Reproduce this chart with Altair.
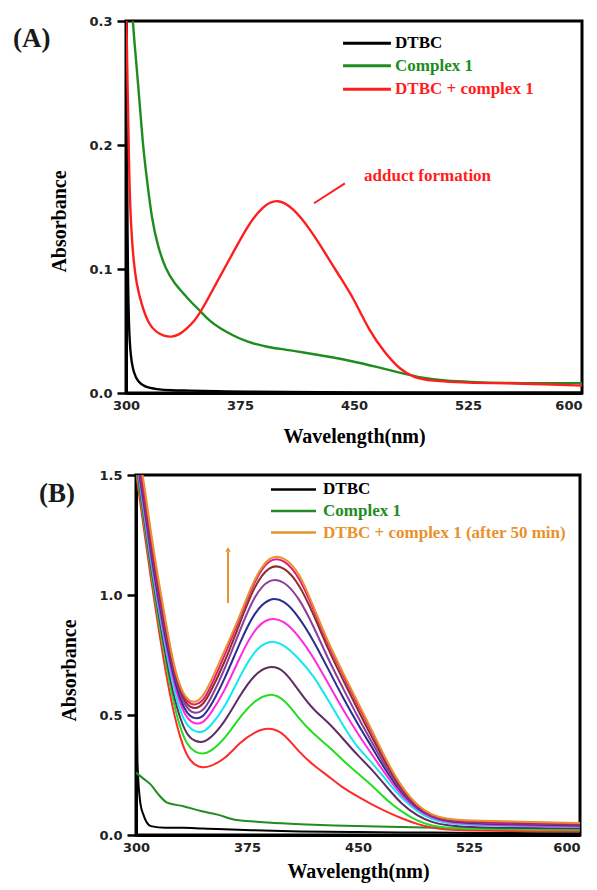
import altair as alt
import pandas as pd

# ---------------- Panel (A) data ----------------
A_DTBC_WL = [300, 301, 302, 303, 305, 308, 312, 320, 330, 340, 360, 380, 400, 450, 500, 600]
A_DTBC_ABS = [0.35, 0.10, 0.05, 0.03, 0.016, 0.009, 0.005, 0.003, 0.002, 0.002, 0.0015, 0.001, 0.0008, 0.0005, 0.0003, 0.0002]

A_CPLX_WL = [300, 302, 304, 305, 308, 311, 314, 317, 321, 326, 332, 338, 343, 349, 355, 362, 371, 380,
             393, 405, 415, 430, 448, 465, 481, 495, 510, 525, 550, 575, 600]
A_CPLX_ABS = [0.40, 0.34, 0.31, 0.29, 0.25, 0.20, 0.17, 0.14, 0.118, 0.10, 0.088, 0.08, 0.073, 0.066, 0.058,
              0.052, 0.046, 0.041, 0.037, 0.035, 0.033, 0.030, 0.026, 0.021, 0.016, 0.012, 0.010, 0.009,
              0.008, 0.008, 0.008]

A_MIX_WL = [300, 301, 302, 303, 305, 307, 310, 315, 320, 325, 330, 335, 340, 345, 350, 360, 370, 380, 390,
            400, 410, 420, 430, 440, 450, 460, 470, 480, 490, 500, 525, 550, 575, 600]
A_MIX_ABS = [0.32, 0.25, 0.18, 0.14, 0.105, 0.088, 0.072, 0.055, 0.049, 0.046, 0.045, 0.047, 0.052, 0.058,
             0.067, 0.09, 0.112, 0.135, 0.151, 0.157, 0.149, 0.134, 0.115, 0.095, 0.076, 0.05, 0.033, 0.019,
             0.012, 0.010, 0.008, 0.008, 0.007, 0.006]

A_SERIES = ["DTBC", "Complex 1", "DTBC + complex 1"]
A_COLORS = ["#000000", "#1E8C1E", "#FF1E1E"]
A_LEGEND_Y = [0.282, 0.264, 0.245]

# ---------------- Panel (B) data ----------------
B_WL = [300, 305, 310, 315, 320, 325, 330, 335, 340, 345, 350, 360, 370, 380, 390, 400, 410, 420, 430,
        440, 450, 460, 470, 480, 490, 500, 510, 525, 550, 600]
B_T1 = [1.51, 1.29, 1.07, 0.87, 0.68, 0.52, 0.40, 0.32, 0.29, 0.28, 0.285, 0.315, 0.385, 0.43, 0.45, 0.425,
        0.345, 0.29, 0.245, 0.195, 0.16, 0.125, 0.095, 0.068, 0.045, 0.03, 0.022, 0.018, 0.016, 0.015]
B_T2 = [1.54, 1.32, 1.10, 0.90, 0.72, 0.56, 0.44, 0.37, 0.345, 0.337, 0.345, 0.40, 0.49, 0.56, 0.593, 0.57,
        0.485, 0.42, 0.37, 0.31, 0.255, 0.205, 0.14, 0.095, 0.058, 0.038, 0.03, 0.026, 0.024, 0.022]
B_T3 = [1.56, 1.34, 1.12, 0.93, 0.75, 0.59, 0.48, 0.41, 0.39, 0.385, 0.40, 0.47, 0.58, 0.67, 0.708, 0.69,
        0.60, 0.52, 0.47, 0.40, 0.33, 0.27, 0.195, 0.125, 0.08, 0.052, 0.04, 0.033, 0.03, 0.028]
B_T4 = [1.58, 1.36, 1.14, 0.95, 0.78, 0.62, 0.51, 0.45, 0.43, 0.427, 0.45, 0.53, 0.66, 0.77, 0.813, 0.795,
        0.735, 0.665, 0.56, 0.455, 0.36, 0.30, 0.22, 0.15, 0.097, 0.063, 0.049, 0.041, 0.037, 0.034]
B_T5 = [1.59, 1.38, 1.16, 0.97, 0.80, 0.65, 0.54, 0.48, 0.462, 0.465, 0.50, 0.60, 0.74, 0.86, 0.908, 0.895,
        0.83, 0.74, 0.63, 0.52, 0.42, 0.33, 0.24, 0.16, 0.105, 0.07, 0.054, 0.045, 0.04, 0.036]
B_T6 = [1.60, 1.40, 1.18, 0.99, 0.82, 0.67, 0.56, 0.50, 0.483, 0.49, 0.53, 0.65, 0.80, 0.93, 0.99, 0.98,
        0.91, 0.81, 0.69, 0.57, 0.46, 0.36, 0.255, 0.17, 0.11, 0.075, 0.058, 0.05, 0.045, 0.04]
B_T7 = [1.61, 1.42, 1.20, 1.01, 0.84, 0.69, 0.58, 0.52, 0.505, 0.515, 0.56, 0.69, 0.85, 1.0, 1.07, 1.06,
        0.99, 0.87, 0.73, 0.61, 0.49, 0.38, 0.27, 0.175, 0.113, 0.077, 0.06, 0.053, 0.048, 0.043]
B_T8 = [1.62, 1.44, 1.22, 1.03, 0.86, 0.70, 0.595, 0.535, 0.525, 0.54, 0.59, 0.72, 0.88, 1.04, 1.125, 1.12,
        1.05, 0.92, 0.77, 0.645, 0.52, 0.40, 0.285, 0.183, 0.117, 0.079, 0.062, 0.056, 0.052, 0.046]
B_T9 = [1.63, 1.46, 1.24, 1.05, 0.88, 0.71, 0.605, 0.55, 0.54, 0.555, 0.61, 0.75, 0.90, 1.06, 1.155, 1.15,
        1.08, 0.94, 0.79, 0.665, 0.54, 0.42, 0.295, 0.19, 0.12, 0.08, 0.064, 0.058, 0.055, 0.048]
B_T10 = [1.65, 1.49, 1.26, 1.07, 0.89, 0.72, 0.61, 0.56, 0.55, 0.575, 0.63, 0.77, 0.91, 1.07, 1.165, 1.16,
         1.10, 0.95, 0.80, 0.675, 0.55, 0.43, 0.30, 0.195, 0.122, 0.082, 0.066, 0.06, 0.057, 0.05]
B_TIMES = [B_T1, B_T2, B_T3, B_T4, B_T5, B_T6, B_T7, B_T8, B_T9, B_T10]
B_TIME_NAMES = ["t1", "t2", "t3", "t4", "t5", "t6", "t7", "t8", "t9", "DTBC + complex 1 (after 50 min)"]
B_TIME_COLORS = ["#FF2A2A", "#22DD22", "#5E2D63", "#11E8F0", "#FF2AE0", "#2A2E8E", "#8E3C9E",
                 "#8B2E2E", "#E6197A", "#E8922E"]

B_DTBC_WL = [300, 301, 303, 305, 307, 310, 320, 332, 345, 355, 378, 411, 450, 500, 550, 600]
B_DTBC_ABS = [0.80, 0.30, 0.13, 0.085, 0.055, 0.037, 0.03, 0.03, 0.027, 0.025, 0.02, 0.015, 0.012, 0.01,
              0.008, 0.007]
B_CPLX_WL = [300, 305, 310, 315, 321, 332, 344, 355, 366, 378, 389, 411, 434, 479, 525, 600]
B_CPLX_ABS = [0.26, 0.235, 0.21, 0.17, 0.135, 0.12, 0.10, 0.085, 0.065, 0.057, 0.052, 0.045, 0.04, 0.033,
              0.027, 0.022]

B_LEGEND = ["DTBC", "Complex 1", "DTBC + complex 1 (after 50 min)"]
B_LEGEND_Y = [1.44, 1.35, 1.26]

X_TICKS = [300, 375, 450, 525, 600]
A_Y_TICKS = [0.0, 0.1, 0.2, 0.3]
B_Y_TICKS = [0.0, 0.5, 1.0, 1.5]

SERIF = "Liberation Serif"


def frame(wl, ab, name):
    return pd.DataFrame({"wl": wl, "ab": ab, "series": name})


def xs():
    return alt.Scale(domain=[300, 600], nice=False, zero=False)


def x_enc(title_pad):
    return alt.X("wl:Q", scale=xs(),
                 axis=alt.Axis(values=X_TICKS, title="Wavelength(nm)", labelFlush=False,
                               labelAlign={"condition": {"test": "datum.value >= 600", "value": "right"},
                                           "value": "center"},
                               titlePadding=title_pad))


def y_enc(top, ticks, title_y):
    return alt.Y("ab:Q", scale=alt.Scale(domain=[0, top], nice=False, zero=False),
                 axis=alt.Axis(values=ticks, format=".1f", title="Absorbance", titleY=title_y))


# ---------------- Panel (A) ----------------
dfA = pd.concat([frame(A_DTBC_WL, A_DTBC_ABS, A_SERIES[0]),
                 frame(A_CPLX_WL, A_CPLX_ABS, A_SERIES[1]),
                 frame(A_MIX_WL, A_MIX_ABS, A_SERIES[2])])
colA = alt.Color("series:N", scale=alt.Scale(domain=A_SERIES, range=A_COLORS), legend=None)
XA, YA = x_enc(14), y_enc(0.3, A_Y_TICKS, 200)

linesA = alt.Chart(dfA).mark_line(clip=True, strokeWidth=2.4, interpolate="basis").encode(
    x=XA, y=YA, color=colA, detail="series:N")

legA = pd.DataFrame({"series": A_SERIES, "ab": A_LEGEND_Y, "wl": [442.8] * 3, "wl2": [474.3] * 3,
                     "tx": [477.0] * 3})
legA_lines = alt.Chart(legA).mark_rule(strokeWidth=3).encode(x=XA, x2="wl2:Q", y=YA, color=colA)
legA_text = alt.Chart(legA).mark_text(align="left", baseline="middle", font=SERIF, fontWeight="bold",
                                      fontSize=17).encode(
    x=alt.X("tx:Q", scale=xs()), y=YA, text="series:N", color=colA)

noteA = pd.DataFrame({"wl": [423.7], "wl2": [444.0], "ab": [0.153], "ab2": [0.169],
                      "tx": [456.6], "ty": [0.175], "label": ["adduct formation"]})
noteA_line = alt.Chart(noteA).mark_rule(color="#FF1E1E", strokeWidth=2).encode(
    x=XA, x2="wl2:Q", y=YA, y2="ab2:Q")
noteA_text = alt.Chart(noteA).mark_text(align="left", baseline="middle", font=SERIF, fontWeight="bold",
                                        fontSize=17, color="#FF1E1E").encode(
    x=alt.X("tx:Q", scale=xs()),
    y=alt.Y("ty:Q", scale=alt.Scale(domain=[0, 0.3], nice=False, zero=False)), text="label:N")

tagA = pd.DataFrame({"wl": [225.7], "ab": [0.2855], "label": ["(A)"]})
tagA_text = alt.Chart(tagA).mark_text(align="left", baseline="middle", font=SERIF, fontWeight="bold",
                                      fontSize=27, color="#1a1a1a").encode(x=XA, y=YA, text="label:N")

panelA = alt.layer(linesA, legA_lines, legA_text, noteA_line, noteA_text, tagA_text).properties(
    width=456, height=372)

# ---------------- Panel (B) ----------------
dfB_time = pd.concat([frame(B_WL, vals, name) for vals, name in zip(B_TIMES, B_TIME_NAMES)])
dfB_ref = pd.concat([frame(B_DTBC_WL, B_DTBC_ABS, "DTBC"), frame(B_CPLX_WL, B_CPLX_ABS, "Complex 1")])
B_ALL_NAMES = ["DTBC", "Complex 1"] + B_TIME_NAMES
B_ALL_COLORS = ["#000000", "#228B22"] + B_TIME_COLORS
colB = alt.Color("series:N", scale=alt.Scale(domain=B_ALL_NAMES, range=B_ALL_COLORS), legend=None)
XB, YB = x_enc(7), y_enc(1.5, B_Y_TICKS, 195)

linesB_ref = alt.Chart(dfB_ref).mark_line(clip=True, strokeWidth=2, interpolate="monotone").encode(
    x=XB, y=YB, color=colB, detail="series:N")
linesB_time = alt.Chart(dfB_time).mark_line(clip=True, strokeWidth=2, interpolate="basis").encode(
    x=XB, y=YB, color=colB, detail="series:N")

legB = pd.DataFrame({"series": B_LEGEND, "ab": B_LEGEND_Y, "wl": [391.2] * 3, "wl2": [421.6] * 3,
                     "tx": [426.4] * 3})
legB_lines = alt.Chart(legB).mark_rule(strokeWidth=2.5).encode(x=XB, x2="wl2:Q", y=YB, color=colB)
legB_text = alt.Chart(legB).mark_text(align="left", baseline="middle", font=SERIF, fontWeight="bold",
                                      fontSize=17).encode(
    x=alt.X("tx:Q", scale=xs()), y=YB, text="series:N", color=colB)

arrowB = pd.DataFrame({"wl": [362.2], "ab": [0.967], "ab2": [1.18], "tip": [1.19]})
arrowB_line = alt.Chart(arrowB).mark_rule(color="#E8922E", strokeWidth=2).encode(x=XB, y=YB, y2="ab2:Q")
arrowB_head = alt.Chart(arrowB).mark_point(shape="triangle-up", filled=True, size=30, color="#E8922E",
                                           opacity=1).encode(
    x=XB, y=alt.Y("tip:Q", scale=alt.Scale(domain=[0, 1.5], nice=False, zero=False)))

tagB = pd.DataFrame({"wl": [234.5], "ab": [1.421], "label": ["(B)"]})
tagB_text = alt.Chart(tagB).mark_text(align="left", baseline="middle", font=SERIF, fontWeight="bold",
                                      fontSize=27, color="#1a1a1a").encode(x=XB, y=YB, text="label:N")

panelB = alt.layer(linesB_ref, linesB_time, legB_lines, legB_text, arrowB_line, arrowB_head,
                   tagB_text).properties(width=444, height=360)

# empty, frameless spacer that shifts panel B 10 px right of panel A
spacer = alt.Chart(pd.DataFrame({"s": [0]})).mark_point(opacity=0).encode(
    x=alt.X("s:Q", axis=None), y=alt.Y("s:Q", axis=None)
).properties(width=10, height=360, view=alt.ViewBackground(stroke="transparent", strokeWidth=0))

rowB = alt.hconcat(spacer, panelB, spacing=0, bounds="flush")

chart = alt.vconcat(panelA, rowB, spacing=82, bounds="flush").resolve_scale(
    color="independent"
).properties(
    padding={"left": 3, "top": 5, "right": 0, "bottom": 0}
).configure_view(stroke="black", strokeWidth=3).configure_axis(
    domainColor="black", domainWidth=3, tickColor="black", tickWidth=2.5, tickSize=9,
    labelFont="DejaVu Sans", labelFontWeight="bold", labelFontSize=13, labelColor="#222222",
    labelPadding=5, titleFont=SERIF, titleFontSize=20, titleFontWeight="bold", titleColor="black",
    titlePadding=19, grid=False
).configure_axisX(ticks=False, tickSize=0, labelPadding=6)

chart.save("out.html", embed_options={"renderer": "svg", "actions": False})
